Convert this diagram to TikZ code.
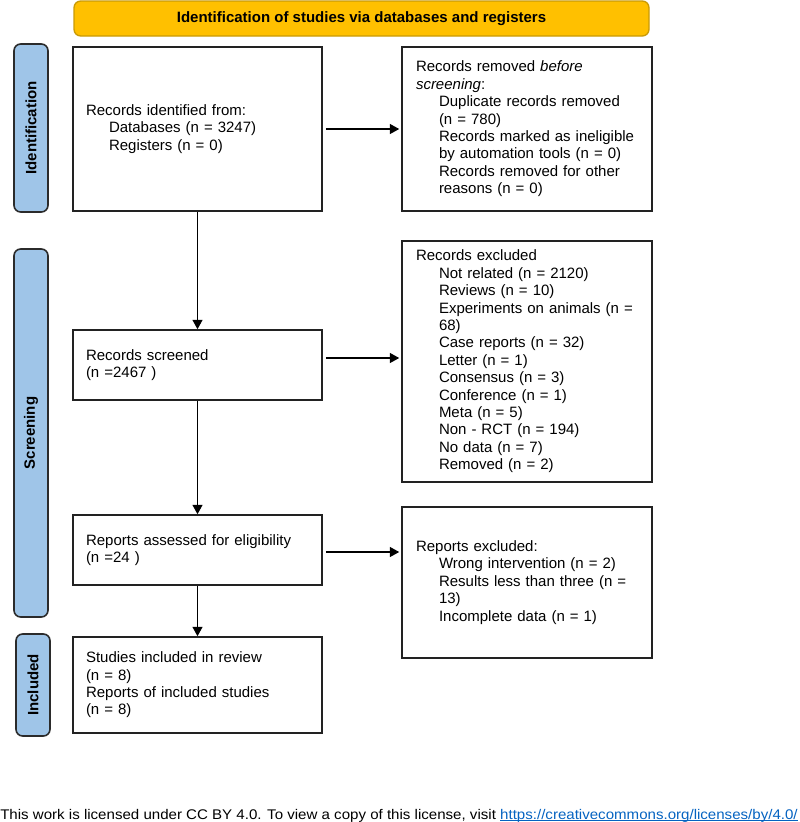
\documentclass[tikz,border=0pt]{standalone}
\usepackage{fontspec}
\setmainfont{Liberation Sans}
\usepackage{graphicx}
\usetikzlibrary{arrows.meta,calc}
\definecolor{bannerfill}{HTML}{FFC000}
\definecolor{bannerdraw}{HTML}{C99A06}
\definecolor{sidefill}{HTML}{9FC5E8}
\definecolor{sidedraw}{HTML}{2B2B2B}
\definecolor{boxdraw}{HTML}{222222}
\definecolor{linkblue}{HTML}{0563C1}
\newcommand{\ind}{\hspace*{17.25pt}}
\newcommand{\myul}[1]{\setbox0\hbox{#1}\rlap{\rule[-1.4pt]{\wd0}{0.6pt}}\box0}
\begin{document}
\begin{tikzpicture}[x=0.75pt,y=-0.75pt,
  txt/.style={font=\fontsize{11.25}{13.05}\selectfont},
  leftbox/.style={txt,draw=boxdraw,line width=1.2pt,rectangle,align=left,
    text width=167.25pt,inner xsep=9.75pt,inner ysep=0pt,minimum width=186.75pt},
  rightbox/.style={txt,draw=boxdraw,line width=1.2pt,rectangle,align=left,
    text width=166.5pt,inner xsep=10.5pt,inner ysep=0pt,minimum width=187.5pt},
  sidebox/.style={draw=sidedraw,fill=sidefill,line width=1.2pt,rounded corners=5pt,
    rotate=90,font=\fontsize{11.25}{13}\selectfont\bfseries,inner sep=0pt},
  arr/.style={line width=0.8pt,draw=black,-{Triangle[length=7pt,width=7.5pt]}}
]
\useasboundingbox (0,0) rectangle (800,822);

% banner
\node[draw=bannerdraw,fill=bannerfill,line width=1pt,rounded corners=5pt,
  minimum width=431.25pt,minimum height=26.25pt,inner sep=0pt,
  font=\fontsize{11.25}{13}\selectfont\bfseries] (banner) at (361.5,18.5)
  {Identification of studies via databases and registers};

% side labels
\node[sidebox,minimum width=126pt,minimum height=25.5pt] (sideid) at (31,128) {Identification};
\node[sidebox,minimum width=276pt,minimum height=25.5pt] (sidescr) at (31,433) {Screening};
\node[sidebox,minimum width=76.5pt,minimum height=25.5pt] (sideinc) at (33,685) {Included};

% left column
\node[leftbox,minimum height=123pt] (ident) at (197.5,129)
  {Records identified from:\\
   \ind Databases (n = 3247)\\
   \ind Registers (n = 0)};
\node[leftbox,minimum height=52.5pt] (screened) at (197.5,365)
  {Records screened\\
   (n =2467 )};
\node[leftbox,minimum height=52.5pt] (assessed) at (197.5,550)
  {Reports assessed for eligibility\\
   (n =24 )};
\node[leftbox,minimum height=72pt] (included) at (197.5,685)
  {Studies included in review\\
   (n = 8)\\
   Reports of included studies\\
   (n = 8)};

% right column
\node[rightbox,minimum height=123pt] (removed) at (527,129)
  {Records removed \textit{before}\\
   \textit{screening}:\\
   \ind Duplicate records removed\\
   \ind (n = 780)\\
   \ind\mbox{Records marked as ineligible}\\
   \ind\mbox{by automation tools (n = 0)}\\
   \ind Records removed for other\\
   \ind reasons (n = 0)};
\node[rightbox,minimum height=180.75pt] (excluded) at (527,361.5)
  {Records excluded\\
   \ind Not related (n = 2120)\\
   \ind Reviews (n = 10)\\
   \ind\mbox{Experiments on animals (n =}\\
   \ind 68)\\
   \ind Case reports (n = 32)\\
   \ind Letter (n = 1)\\
   \ind Consensus (n = 3)\\
   \ind Conference (n = 1)\\
   \ind Meta (n = 5)\\
   \ind Non - RCT (n = 194)\\
   \ind No data (n = 7)\\
   \ind Removed (n = 2)};
\node[rightbox,minimum height=113.25pt] (repexcl) at (527,582.5)
  {Reports excluded:\\
   \ind\mbox{Wrong intervention (n = 2)}\\
   \ind\mbox{Results less than three (n =}\\
   \ind 13)\\
   \ind Incomplete data (n = 1)};

% arrows
\draw[arr] ([xshift=2.25pt]ident.east) -- ([xshift=-1.5pt]removed.west);
\draw[arr] ([xshift=2.25pt,yshift=5.25pt]screened.east) coordinate (a2)
  -- ($(a2 -| excluded.west)+(-2,0)$);
\draw[arr] ([xshift=2.25pt,yshift=-1.5pt]assessed.east) coordinate (a3)
  -- ($(a3 -| repexcl.west)+(-2,0)$);
\draw[arr] (ident.south) -- (screened.north);
\draw[arr] (screened.south) -- (assessed.north);
\draw[arr] (assessed.south) -- (included.north);

% footer
\node[anchor=base west,inner sep=0pt,font=\fontsize{10.5}{12}\selectfont] (footer) at (0,819)
  {\resizebox{598pt}{\height}{This work is licensed under CC BY 4.0. To view a copy of this license, visit \textcolor{linkblue}{\myul{https://creativecommons.org/licenses/by/4.0/}}}};
\end{tikzpicture}
\end{document}
